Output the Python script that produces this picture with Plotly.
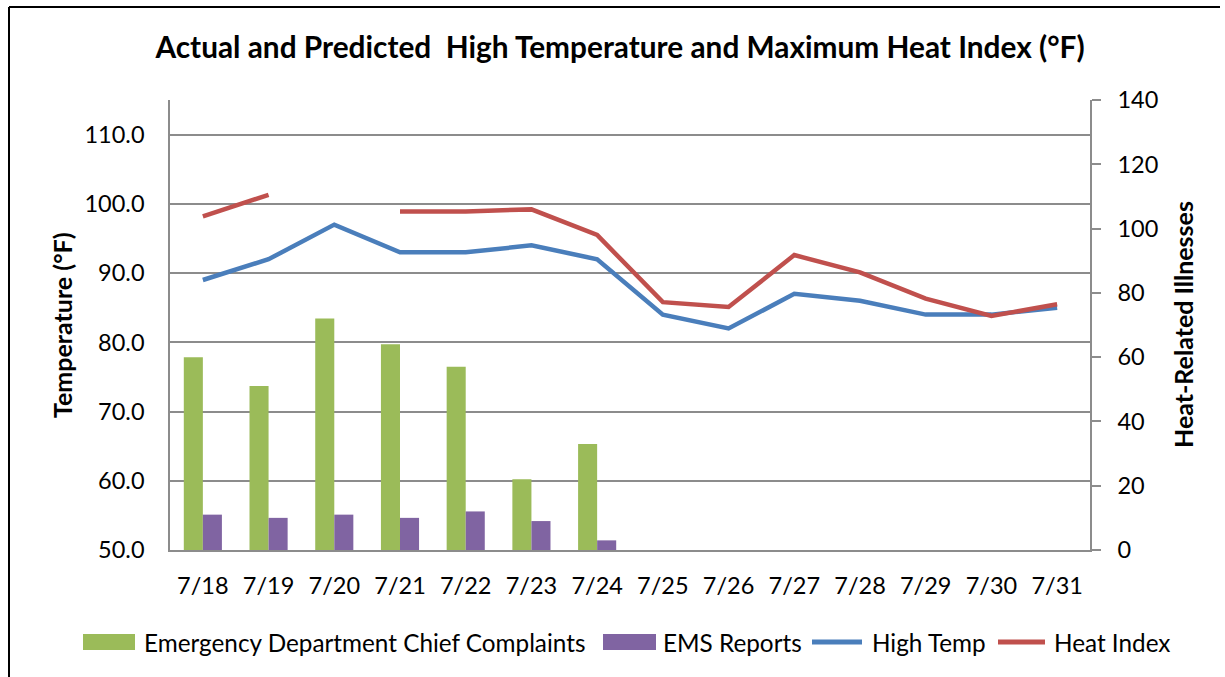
import plotly.graph_objects as go

dates = ["7/18", "7/19", "7/20", "7/21", "7/22", "7/23", "7/24",
         "7/25", "7/26", "7/27", "7/28", "7/29", "7/30", "7/31"]
ed_complaints = [60, 51, 72, 64, 57, 22, 33, None, None, None, None, None, None, None]
ems_reports = [11, 10, 11, 10, 12, 9, 3, None, None, None, None, None, None, None]
high_temp = [89, 92, 97, 93, 93, 94, 92, 84, 82, 87, 86, 84, 84, 85]
heat_index = [98.2, 101.3, None, 98.9, 98.9, 99.2, 95.5, 85.8, 85.1, 92.6, 90.1, 86.3, 83.8, 85.5]

series_names = ["Emergency Department Chief Complaints", "EMS Reports", "High Temp", "Heat Index"]
series_colors = ["#9BBB59", "#8064A2", "#4A7EBB", "#C0504D"]

FONT = "Lato"
GRID = "#8c8c8c"

fig = go.Figure()
fig.add_trace(go.Bar(x=dates, y=ed_complaints, name=series_names[0],
                     marker=dict(color=series_colors[0], line=dict(width=0)), yaxis="y2"))
fig.add_trace(go.Bar(x=dates, y=ems_reports, name=series_names[1],
                     marker=dict(color=series_colors[1], line=dict(width=0)), yaxis="y2"))
fig.add_trace(go.Scatter(x=dates, y=high_temp, name=series_names[2], mode="lines",
                         line=dict(color=series_colors[2], width=4.5), yaxis="y"))
fig.add_trace(go.Scatter(x=dates, y=heat_index, name=series_names[3], mode="lines",
                         line=dict(color=series_colors[3], width=4.5), connectgaps=False, yaxis="y"))

L, R, T, B = 170, 135, 100, 127
W, H = 1225, 677
pw, ph = W - L - R, H - T - B


def px(x):
    return (x - L) / pw


def py(y):
    return (H - B - y) / ph


shapes = [
    dict(type="line", xref="paper", yref="paper", x0=px(9), x1=px(9), y0=py(7), y1=py(700),
         line=dict(color="black", width=2)),
    dict(type="line", xref="paper", yref="paper", x0=px(9), x1=px(1220), y0=py(7), y1=py(7),
         line=dict(color="black", width=2)),
]
annotations = [
    dict(text="<b>Temperature (°F)</b>", xref="paper", yref="paper", x=px(62), y=0.5,
         xanchor="center", yanchor="middle", textangle=-90, showarrow=False,
         font=dict(family=FONT, size=25, color="black")),
    dict(text="<b>Heat-Related Illnesses</b>", xref="paper", yref="paper", x=px(1183), y=0.5,
         xanchor="center", yanchor="middle", textangle=-90, showarrow=False,
         font=dict(family=FONT, size=25, color="black")),
]

# manual legend (swatch spans and text start, in pixels)
legend_swatch = [(83, 135, "rect"), (603, 656, "rect"), (810, 864, "line"), (996, 1047, "line")]
legend_text_x = [142, 661, 870, 1052]
LEG_Y = 642
for (x0, x1, kind), tx, name, col in zip(legend_swatch, legend_text_x, series_names, series_colors):
    if kind == "rect":
        shapes.append(dict(type="rect", xref="paper", yref="paper", x0=px(x0), x1=px(x1),
                           y0=py(LEG_Y + 8), y1=py(LEG_Y - 8), line=dict(width=0), fillcolor=col))
    else:
        shapes.append(dict(type="line", xref="paper", yref="paper", x0=px(x0 + 2), x1=px(x1 - 2),
                           y0=py(LEG_Y), y1=py(LEG_Y), line=dict(color=col, width=5)))
    annotations.append(dict(text=name, xref="paper", yref="paper", x=px(tx), y=py(LEG_Y),
                            xanchor="left", yanchor="middle", showarrow=False,
                            font=dict(family=FONT, size=24.3, color="black")))

fig.update_layout(
    width=W, height=H,
    margin=dict(l=L, r=R, t=T, b=B, autoexpand=False),
    paper_bgcolor="white", plot_bgcolor="white",
    font=dict(family=FONT, size=23.5, color="black"),
    title=dict(text="<b>Actual and Predicted  High Temperature and Maximum Heat Index (°F)</b>",
               x=620 / W, xanchor="center", y=1 - 48 / H, yanchor="middle",
               font=dict(family=FONT, size=29.8, color="black")),
    barmode="group", bargap=0.42, bargroupgap=0,
    showlegend=False,
    xaxis=dict(type="category", showgrid=False, showline=True, linecolor=GRID, linewidth=1.5,
               ticks="", tickfont=dict(size=23.5), ticklabelstandoff=14),
    yaxis=dict(range=[50, 115], tick0=50, dtick=10, tickformat=".1f", showgrid=True,
               gridcolor=GRID, gridwidth=1.5, showline=True, linecolor=GRID, linewidth=1.5,
               ticks="", zeroline=False, tickfont=dict(size=23.5), ticklabelstandoff=19),
    yaxis2=dict(range=[0, 140], dtick=20, overlaying="y", side="right", showgrid=False,
                showline=True, linecolor=GRID, linewidth=1.5, ticks="outside", ticklen=9,
                tickcolor=GRID, tickwidth=1.5, zeroline=False, tickfont=dict(size=23.5),
                ticklabelstandoff=12),
    shapes=shapes,
    annotations=annotations,
)

fig.write_html("out.html", config={"displayModeBar": False},
               post_script="document.body.style.margin='0';")
